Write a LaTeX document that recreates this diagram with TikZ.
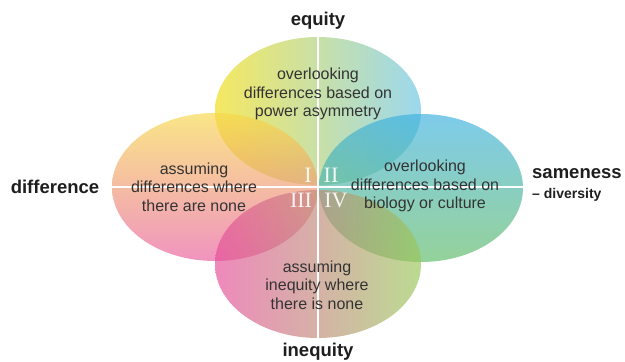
\documentclass[tikz,border=0pt]{standalone}
\usepackage{fontspec}
\setmainfont{Liberation Sans}
\newfontfamily\numfont{Liberation Serif}
\definecolor{txt}{HTML}{333333}
\definecolor{lbl}{HTML}{1E1E1E}
\definecolor{topL}{HTML}{F0DC10}
\definecolor{topM}{HTML}{D6DE9C}
\definecolor{topR}{HTML}{68C4E4}
\definecolor{lefT}{HTML}{F7D848}
\definecolor{lefB}{HTML}{E85C9E}
\definecolor{rigT}{HTML}{3AB0E0}
\definecolor{rigB}{HTML}{5EBA64}
\definecolor{botL}{HTML}{E64C98}
\definecolor{botM}{HTML}{CFAE9E}
\definecolor{botR}{HTML}{98C858}
\tikzset{
  petal/.style={fill opacity=0.66},
  body/.style={align=center, text=txt, font=\fontsize{16}{18.5}\selectfont, inner sep=0pt},
  axislbl/.style={text=lbl, font=\fontsize{18.5}{20}\selectfont\bfseries, inner sep=0pt},
  numeral/.style={text=white, text opacity=0.9, font=\fontsize{22}{22}\selectfont\numfont, inner sep=0pt},
  axisline/.style={draw=white, line width=1.6pt}
}
\begin{document}
\begin{tikzpicture}[x=1pt,y=-1pt]
\useasboundingbox (0,0) rectangle (625,362);
\shade[petal, left color=topL, middle color=topM, right color=topR] (318,111) ellipse (103 and 74);
\shade[petal, top color=lefT, bottom color=lefB] (215,187) ellipse (103 and 74);
\shade[petal, top color=rigT, bottom color=rigB] (421,188) ellipse (102 and 74);
\shade[petal, left color=botL, middle color=botM, right color=botR] (318,264) ellipse (103 and 74);
\coordinate (hl) at (112,187);
\coordinate (hr) at (523,187);
\coordinate (vt) at (318,37);
\coordinate (vb) at (318,338);
\draw[axisline] (hl) -- (hr);
\draw[axisline] (vt) -- (vb);
\node[body] (ttop) at (318,94) {overlooking\\differences based on\\power asymmetry};
\node[body] (tleft) at (194,187) {assuming\\differences where\\there are none};
\node[body] (tright) at (425,186) {overlooking\\differences based on\\biology or culture};
\node[body] (tbot) at (317,285) {assuming\\inequity where\\there is none};
\node[numeral] (n1) at (308,175) {I};
\node[numeral] (n2) at (331,175) {II};
\node[numeral] (n3) at (301,200) {III};
\node[numeral] (n4) at (336,200) {IV};
\node[axislbl] (eq) at (318,21) {equity};
\node[axislbl] (ineq) at (318,352) {inequity};
\node[axislbl] (diff) at (55,187) {difference};
\node[axislbl, anchor=west] (same) at (532,174) {sameness};
\node[axislbl, anchor=west, font=\fontsize{14}{16}\selectfont\bfseries] (div) at (532,195) {– diversity};
\end{tikzpicture}
\end{document}
